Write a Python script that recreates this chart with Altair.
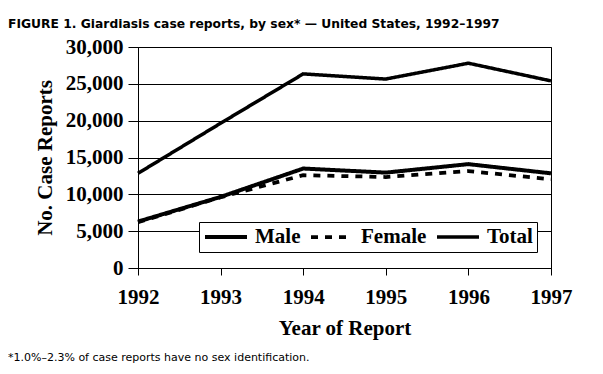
import altair as alt
import pandas as pd

years = [1992, 1993, 1994, 1995, 1996, 1997]
male = [6300, 9650, 13500, 12950, 14100, 12850]
female = [6200, 9600, 12600, 12350, 13150, 12050]
total = [12850, 19650, 26350, 25650, 27800, 25400]
series_names = ["Male", "Female", "Total"]
y_ticks = [0, 5000, 10000, 15000, 20000, 25000, 30000]

title_text = "FIGURE 1. Giardiasis case reports, by sex* \u2014 United States, 1992\u20131997"
foot_text = "*1.0%\u20132.3% of case reports have no sex identification."

rows = []
for name, vals in zip(series_names, [male, female, total]):
    for yr, v in zip(years, vals):
        rows.append({"year": yr, "cases": v, "series": name})
df = pd.DataFrame(rows)

W, H = 413, 221
PL, PT = 130, 39
SERIF = "Liberation Serif"

legend = alt.Legend(
    title=None, orient="none", legendX=61, legendY=175, direction="horizontal",
    strokeColor="black", fillColor="white", padding=4, clipHeight=22,
    labelFont=SERIF, labelFontWeight="bold", labelFontSize=21, labelColor="black",
    symbolType="stroke", symbolSize=1764, labelOffset=6, columnPadding=8,
    symbolStrokeColor="black",
)

lines = alt.Chart(df).mark_line(color="black", strokeCap="butt").encode(
    x=alt.X("year:Q", scale=alt.Scale(domain=[1992, 1997], nice=False, zero=False),
            axis=alt.Axis(values=years, format="d", title="Year of Report", grid=False,
                          tickSize=7, labelPadding=11, titlePadding=10,
                          labelFlush=False, labelOverlap=False)),
    y=alt.Y("cases:Q", scale=alt.Scale(domain=[0, 30000], nice=False),
            axis=alt.Axis(values=y_ticks, format=",.0f", title="No. Case Reports",
                          grid=True, tickSize=10, labelPadding=5, titlePadding=10,
                          labelFlush=False, labelOverlap=False)),
    strokeDash=alt.StrokeDash("series:N", scale=alt.Scale(domain=series_names,
                              range=[[1, 0], [7, 7], [1, 0]]), legend=legend),
    strokeWidth=alt.StrokeWidth("series:N", scale=alt.Scale(domain=series_names,
                                range=[4, 3.5, 2.5]), legend=legend),
    detail="series:N",
)

title_mark = alt.Chart(pd.DataFrame({"t": [title_text]})).mark_text(
    align="left", baseline="alphabetic", font="DejaVu Sans",
    fontWeight="bold", fontSize=12.3, color="black"
).encode(x=alt.value(-PL), y=alt.value(-19), text="t:N")

foot_mark = alt.Chart(pd.DataFrame({"t": [foot_text]})).mark_text(
    align="left", baseline="alphabetic", font="DejaVu Sans",
    fontSize=11, color="black"
).encode(x=alt.value(-PL), y=alt.value(314), text="t:N")

chart = alt.layer(lines, title_mark, foot_mark).properties(
    width=W, height=H,
    autosize=alt.AutoSizeParams(type="none"),
    padding={"left": PL, "top": PT, "right": 587 - PL - W, "bottom": 358 - PT - H},
    background="white",
).configure_view(stroke="black", strokeWidth=1).configure_axis(
    domainColor="black", tickColor="black", gridColor="black", gridWidth=1,
    labelFont=SERIF, labelFontWeight="bold", labelFontSize=21, labelColor="black",
    titleFont=SERIF, titleFontWeight="bold", titleFontSize=21, titleColor="black",
)

chart.save("out.html", embed_options={"renderer": "svg", "actions": False})
